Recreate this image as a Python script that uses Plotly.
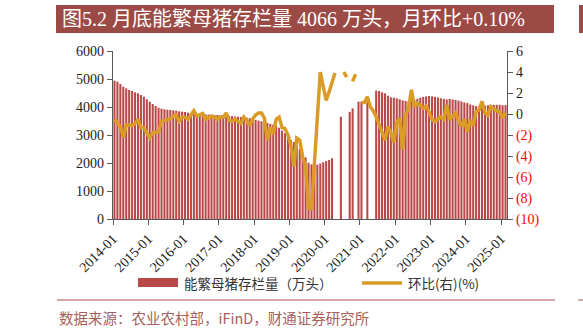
import pandas as pd
import plotly.graph_objects as go

# Monthly categories, 2014-01 .. 2025-02
months = [p.strftime("%Y-%m") for p in pd.period_range("2014-01", "2025-02", freq="M")]

# 能繁母猪存栏量 (万头); None = not published
sows = [
    4940, 4905, 4821, 4726, 4667, 4607, 4571, 4524, 4488, 4429, 4369, 4274,   # 2014
    4190, 4107, 4036, 3976, 3940, 3917, 3905, 3893, 3881, 3869, 3845, 3833,   # 2015
    3821, 3798, 3774, 3774, 3750, 3745, 3740, 3735, 3730, 3725, 3718, 3712,   # 2016
    3705, 3698, 3690, 3682, 3672, 3662, 3652, 3640, 3628, 3615, 3600, 3585,   # 2017
    3540, 3515, 3490, 3460, 3430, 3400, 3370, 3330, 3260, 3155, 3060, 2940,   # 2018
    2820, 2750, 2620, 2500, 2370, 2200, 2010, 1950, 1920, 1940, 1980, 2030,   # 2019
    2070, 2110, 2170, None, None, 3654, None, None, 3829, 3950, None, 4189,   # 2020
    4189, None, 4189, None, None, 4583, 4571, 4524, 4488, 4405, 4345, 4333,   # 2021
    4310, 4274, 4240, 4214, 4200, 4214, 4250, 4290, 4330, 4360, 4380, 4393,   # 2022
    4380, 4360, 4340, 4310, 4290, 4270, 4290, 4270, 4250, 4230, 4200, 4160,   # 2023
    4140, 4090, 4060, 4030, 4020, 4030, 4050, 4060, 4070, 4075, 4080, 4080,   # 2024
    4062, 4066,                                                               # 2025
]

# 环比 (%); None = gap in the series
mom = [
    -0.5, -0.8, -1.2, -2.2, -1.05, -1.05, -1.1, -0.9, -0.5, -1.3, -1.3, -1.8,   # 2014
    -2.25, -1.8, -1.75, -1.7, -0.7, -0.6, -0.5, -0.45, -0.2, -0.1, -0.7, -0.3,  # 2015
    -0.3, -0.5, -0.1, 0.3, -0.2, -0.1, 0.05, -0.5, -0.3, -0.2, -0.3, -0.5,      # 2016
    -0.3, -0.3, 0.1, -0.6, -0.7, -0.5, -0.7, -0.9, -0.3, -0.6, -1.1, -0.5,      # 2017
    -0.1, 0.1, 0.1, -0.4, -2.5, -1.3, -1.9, -0.5, -0.3, -1.3, -1.4, -2.0,       # 2018
    -3.0, -5.0, -2.3, -2.5, -4.1, -5.0, -8.9, -9.1, -4.7, -0.4, 4.0, 2.6,       # 2019
    1.3, 2.1, 2.9, 3.9, None, None, 4.0, 3.5, None, 3.1, 3.8, None,            # 2020
    1.1, 1.1, 1.65, 0.7, 0.3, -0.25, -1.0, -1.7, -2.5, -1.2, -1.8, -2.7,       # 2021
    -0.8, -0.4, -3.4, -0.1, 0.5, 2.3, 0.7, 1.0, 0.85, 0.55, 0.75, 0.2,         # 2022
    -0.55, -0.7, -0.45, -0.3, -0.5, 0.85, -0.55, -0.2, 0.1, -0.6, -1.2, -0.5,  # 2023
    -1.7, -0.6, -1.1, 0.2, 0.4, 1.2, 0.1, -0.1, 0.7, 0.45, 0.3, 0.2,           # 2024
    -0.4, 0.1,                                                                  # 2025
]

left_ticks = [0, 1000, 2000, 3000, 4000, 5000, 6000]
right_ticks = [-10, -8, -6, -4, -2, 0, 2, 4, 6]
right_labels = [
    "<span style='color:#FF0000'>(10)</span>",
    "<span style='color:#FF0000'>(8)</span>",
    "<span style='color:#FF0000'>(6)</span>",
    "<span style='color:#FF0000'>(4)</span>",
    "<span style='color:#FF0000'>(2)</span>",
    "0", "2", "4", "6",
]

BAR = "#B94848"
LINE = "#DA9C26"
BANNER = "#9C4A46"
AXIS = "#595959"
SERIF = "Liberation Serif, Times New Roman, Noto Sans CJK SC, serif"
CJK = "Noto Sans CJK SC, sans-serif"

n = len(months)
xpos = [i + 0.5 for i in range(n)]
tick_idx = list(range(0, n, 12))

fig = go.Figure()
fig.add_trace(go.Bar(
    x=xpos, y=sows, marker=dict(color=BAR, line=dict(width=0)),
    name="能繁母猪存栏量（万头）", showlegend=False,
))
fig.add_trace(go.Scatter(
    x=xpos, y=mom, yaxis="y2", mode="lines",
    line=dict(color=LINE, width=3.5), connectgaps=False,
    name="环比(右)(%)", showlegend=False,
))

fig.update_layout(
    width=583, height=336,
    margin=dict(l=113, r=76, t=51, b=117),
    paper_bgcolor="white", plot_bgcolor="white",
    bargap=0.3,
    font=dict(family=SERIF, size=14, color="#222222"),
    xaxis=dict(
        range=[0, n], tickmode="array",
        tickvals=tick_idx, ticktext=[months[i] for i in tick_idx],
        tickangle=-45, ticks="outside", ticklen=5, tickcolor=AXIS,
        showline=True, linecolor=AXIS, linewidth=1.3,
        showgrid=False, zeroline=False,
        tickfont=dict(family=SERIF, size=14, color="#222222"),
    ),
    yaxis=dict(
        range=[0, 6000], tickmode="array", tickvals=left_ticks,
        ticks="outside", ticklen=5, tickcolor=AXIS,
        showline=True, linecolor=AXIS, linewidth=1.3,
        showgrid=False, zeroline=False,
        tickfont=dict(family=SERIF, size=14, color="#222222"),
    ),
    yaxis2=dict(
        range=[-10, 6], overlaying="y", side="right",
        tickmode="array", tickvals=right_ticks, ticktext=right_labels,
        ticks="outside", ticklen=5, tickcolor=AXIS,
        showline=True, linecolor=AXIS, linewidth=1.3,
        showgrid=False, zeroline=False,
        tickfont=dict(family=SERIF, size=14, color="#222222"),
    ),
)

shapes = []
annotations = []

# title banner
shapes.append(dict(type="rect", xref="paper", yref="paper",
                   x0=(56 - 113) / 394, x1=(554 - 113) / 394,
                   y0=(219 - 33) / 168, y1=(219 - 5) / 168,
                   fillcolor=BANNER, line=dict(width=0), layer="above"))
shapes.append(dict(type="rect", xref="paper", yref="paper",
                   x0=(579 - 113) / 394, x1=(590 - 113) / 394,
                   y0=(219 - 33) / 168, y1=(219 - 5) / 168,
                   fillcolor=BANNER, line=dict(width=0), layer="above"))
annotations.append(dict(
    xref="paper", yref="paper", x=(60 - 113) / 394, y=(219 - 19) / 168,
    xanchor="left", yanchor="middle", showarrow=False,
    text="图5.2 月底能繁母猪存栏量 4066 万头，月环比+0.10%",
    font=dict(family=SERIF, size=20, color="white"),
))

# legend drawn by hand
shapes.append(dict(type="rect", xref="paper", yref="paper",
                   x0=(138 - 113) / 394, x1=(178 - 113) / 394,
                   y0=(219 - 287) / 168, y1=(219 - 278) / 168,
                   fillcolor=BAR, line=dict(width=0)))
annotations.append(dict(
    xref="paper", yref="paper", x=(182 - 113) / 394, y=(219 - 283) / 168,
    xanchor="left", yanchor="middle", showarrow=False,
    text="能繁母猪存栏量（万头）", font=dict(family=CJK, size=13.5, color="#333333"),
))
shapes.append(dict(type="line", xref="paper", yref="paper",
                   x0=(362 - 113) / 394, x1=(402 - 113) / 394,
                   y0=(219 - 283) / 168, y1=(219 - 283) / 168,
                   line=dict(color=LINE, width=3.5)))
annotations.append(dict(
    xref="paper", yref="paper", x=(406 - 113) / 394, y=(219 - 283) / 168,
    xanchor="left", yanchor="middle", showarrow=False,
    text="环比(右)(%)", font=dict(family=CJK, size=13.5, color="#333333"),
))

# rule and source line
for xa, xb in [(57, 555), (578, 590)]:
    shapes.append(dict(type="line", xref="paper", yref="paper",
                       x0=(xa - 113) / 394, x1=(xb - 113) / 394,
                       y0=(219 - 300) / 168, y1=(219 - 300) / 168,
                       line=dict(color="#C98A87", width=1.5)))
annotations.append(dict(
    xref="paper", yref="paper", x=(57 - 113) / 394, y=(219 - 317) / 168,
    xanchor="left", yanchor="middle", showarrow=False,
    text="数据来源：农业农村部，iFinD，财通证券研究所",
    font=dict(family=CJK, size=14.5, color="#A8605C"),
))

fig.update_layout(shapes=shapes, annotations=annotations)
fig.write_html("out.html")
